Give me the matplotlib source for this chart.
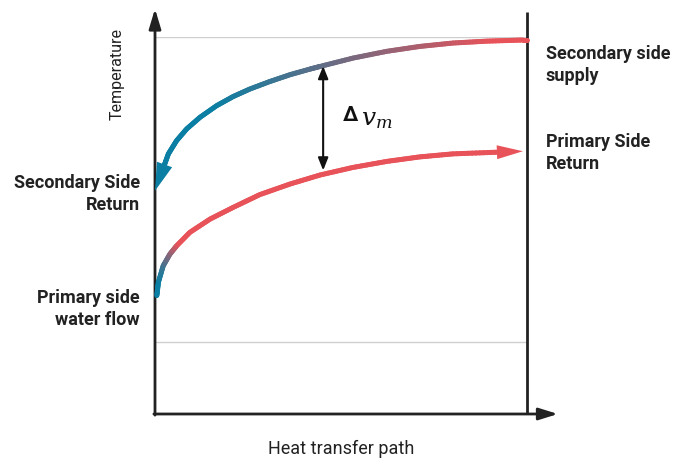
import numpy as np
import matplotlib.pyplot as plt
from matplotlib.collections import LineCollection
from matplotlib.colors import to_rgb
from matplotlib.patches import FancyArrowPatch

plt.rcParams['font.family'] = ['Roboto', 'DejaVu Sans']
plt.rcParams['mathtext.fontset'] = 'dejavuserif'

# secondary side: flows from right (supply) to left (return)
sec_x = [1.0, 0.989, 0.892, 0.801, 0.712, 0.623, 0.532, 0.444, 0.417, 0.363,
         0.309, 0.255, 0.210, 0.166, 0.121, 0.085, 0.058, 0.036, 0.0]
sec_t = [99.2, 99.2, 98.9, 98.4, 97.5, 96.2, 94.4, 92.2, 91.5, 90.0,
         88.2, 86.2, 84.2, 81.8, 78.7, 75.6, 72.5, 69.0, 59.2]

# primary side: flows from left to right
pri_x = [0.005, 0.009, 0.022, 0.040, 0.058, 0.094, 0.148, 0.210, 0.282, 0.363,
         0.444, 0.532, 0.623, 0.712, 0.801, 0.989]
pri_t = [31.4, 34.9, 39.3, 42.4, 44.6, 48.2, 51.7, 54.8, 58.2, 61.0,
         63.4, 65.4, 67.0, 68.2, 69.0, 69.7]

grid_t = [19.1, 100]
dv_x = 0.452
dv_top, dv_bot = 92.3, 64.6

TEAL = '#0a7fa3'
RED = '#e8535a'
INK = '#222222'


def gradient_line(ax, xs, ts, x0, x1, lw=3.6, n=12):
    # split each polyline segment so the colour can change smoothly along it
    segs, cols = [], []
    c0 = np.array(to_rgb(TEAL))
    c1 = np.array(to_rgb(RED))
    for i in range(len(xs) - 1):
        f = np.linspace(0, 1, n + 1)
        px = xs[i] + (xs[i + 1] - xs[i]) * f
        pt = ts[i] + (ts[i + 1] - ts[i]) * f
        for j in range(n):
            segs.append([(px[j], pt[j]), (px[j + 1], pt[j + 1])])
            xm = 0.5 * (px[j] + px[j + 1])
            w = np.clip((xm - x0) / (x1 - x0), 0, 1)
            cols.append(c0 * (1 - w) + c1 * w)
    lc = LineCollection(segs, colors=cols, linewidths=lw, capstyle='round',
                        joinstyle='round', clip_on=False, zorder=3)
    ax.add_collection(lc)


def arrow_curve(ax, xs, ts, x0, x1, color, hl_px, hw):
    # line up to the arrowhead base, then a filled head to the last point
    tip = ax.transData.transform((xs[-1], ts[-1]))
    prev = ax.transData.transform((xs[-2], ts[-2]))
    d = (tip - prev) / np.hypot(*(tip - prev))
    base = ax.transData.inverted().transform(tip - d * (hl_px - 2))
    gradient_line(ax, list(xs[:-1]) + [base[0]], list(ts[:-1]) + [base[1]], x0, x1)
    base = ax.transData.inverted().transform(tip - d * hl_px)
    hl = hl_px * 0.72 / 10
    a = FancyArrowPatch(tuple(base), (xs[-1], ts[-1]),
                        arrowstyle=f'-|>,head_length={hl},head_width={hw}',
                        mutation_scale=10, color=color, lw=0, shrinkA=0, shrinkB=0,
                        clip_on=False, zorder=4)
    ax.add_patch(a)


fig = plt.figure(figsize=(6.9, 4.6), dpi=100)
ax = fig.add_axes([155 / 690, 45 / 460, 372 / 690, 377 / 460])
ax.set_xlim(0, 1)
ax.set_ylim(0, 100)
ax.axis('off')

for g in grid_t:
    ax.plot([0, 1], [g, g], color='#cfcfcf', lw=1, zorder=0)

# axes with arrows
ax.annotate('', xy=(0, 1.075), xytext=(0, -0.003), xycoords='axes fraction',
            arrowprops=dict(arrowstyle='-|>,head_length=1.2,head_width=0.36',
                            mutation_scale=10, color=INK, lw=2, shrinkA=0, shrinkB=0))
ax.annotate('', xy=(1.083, 0), xytext=(-0.003, 0), xycoords='axes fraction',
            arrowprops=dict(arrowstyle='-|>,head_length=1.15,head_width=0.36',
                            mutation_scale=10, color=INK, lw=2, shrinkA=0, shrinkB=0))
ax.plot([1, 1], [0, 106.5], color=INK, lw=2, clip_on=False, solid_capstyle='butt')

# curves
arrow_curve(ax, sec_x, sec_t, 0.15, 0.9, TEAL, 28, 0.58)
arrow_curve(ax, pri_x, pri_t, 0.01, 0.065, RED, 26, 0.5)

# temperature difference
ax.annotate('', xy=(dv_x, dv_top), xytext=(dv_x, dv_bot),
            arrowprops=dict(arrowstyle='<|-|>,head_length=0.75,head_width=0.3',
                            mutation_scale=10, color='#111111', lw=1.5,
                            shrinkA=0, shrinkB=0))
ax.text(0.505, 79.4, 'Δ', fontsize=15, fontweight='bold', color='#111111',
        ha='left', va='center')
ax.text(0.553, 78.6, r'$v_m$', fontsize=18, color='#111111', ha='left', va='center')

lab = dict(fontsize=13, fontweight='bold', color=INK, linespacing=1.3, va='center')
ax.text(1.051, 92.8, 'Secondary side\nsupply', ha='left', **lab)
ax.text(1.051, 69.5, 'Primary Side\nReturn', ha='left', **lab)
ax.text(-0.04, 58.6, 'Secondary Side\nReturn', ha='right', multialignment='right', **lab)
ax.text(-0.04, 28.1, 'Primary side\nwater flow', ha='right', multialignment='right', **lab)

ax.text(-0.102, 90.4, 'Temperature', rotation=90, fontsize=11.5, color=INK,
        ha='center', va='center')
ax.text(0.5, -9.0, 'Heat transfer path', fontsize=13, color=INK,
        ha='center', va='center')

fig.savefig('out.png', dpi=100)
